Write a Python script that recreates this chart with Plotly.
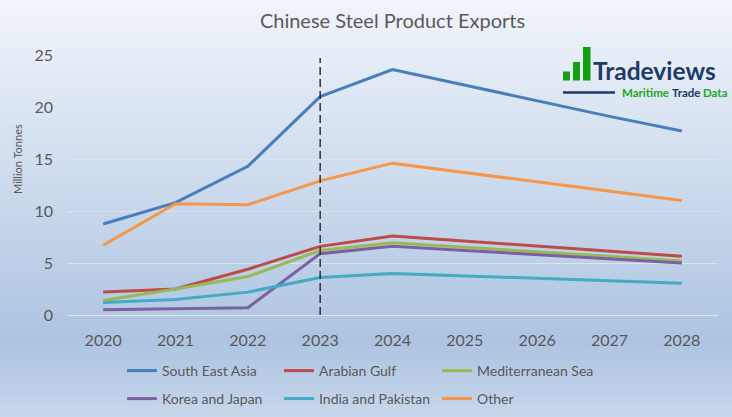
import plotly.graph_objects as go

# ---------------- data ----------------
years = ["2020", "2021", "2022", "2023", "2024", "2025", "2026", "2027", "2028"]
south_east_asia = [8.75, 10.8, 14.3, 21.0, 23.6, 22.1, 20.6, 19.1, 17.7]
arabian_gulf = [2.2, 2.5, 4.4, 6.6, 7.6, 7.1, 6.6, 6.15, 5.65]
mediterranean_sea = [1.4, 2.5, 3.7, 6.2, 6.95, 6.5, 6.05, 5.6, 5.2]
korea_and_japan = [0.5, 0.6, 0.7, 5.9, 6.6, 6.2, 5.8, 5.4, 5.0]
india_and_pakistan = [1.2, 1.5, 2.2, 3.6, 4.0, 3.75, 3.5, 3.25, 3.05]
other = [6.7, 10.7, 10.6, 12.9, 14.6, 13.7, 12.8, 11.9, 11.0]
divider_year = "2023"
divider_span = [0, 24.7]

series_names = ["South East Asia", "Arabian Gulf", "Mediterranean Sea",
                "Korea and Japan", "India and Pakistan", "Other"]
series_values = [south_east_asia, arabian_gulf, mediterranean_sea,
                 korea_and_japan, india_and_pakistan, other]
series_colors = ["#4A7EBB", "#BE4B48", "#98B954", "#7D60A0", "#46AAC5", "#F79646"]

# ---------------- layout geometry ----------------
W, H = 732, 417
L, R, T, B = 67, 14, 55, 102
PW, PH = W - L - R, H - T - B


def px(x):
    return (x - L) / PW


def py(y):
    return (H - B - y) / PH


FONT = "Lato"
GREY = "#595959"
NAVY = "#1E3A66"
LOGO_GREEN = "#22A822"

# legend placement (pixel x of item start, pixel y of row centre)
legend_pos = [(122, 371), (279, 371), (437, 371), (122, 399), (279, 399), (437, 399)]
legend_ids = ["legend", "legend2", "legend3", "legend4", "legend5", "legend6"]

fig = go.Figure()
for name, vals, col, lg in zip(series_names, series_values, series_colors, legend_ids):
    fig.add_trace(go.Scatter(x=years, y=vals, name=name, mode="lines",
                             line=dict(color=col, width=3), legend=lg))

fig.add_trace(go.Scatter(x=[divider_year, divider_year], y=divider_span, mode="lines",
                         line=dict(color="#262626", width=1.4, dash="8px,4px"),
                         showlegend=False, hoverinfo="skip"))


# background gradient as thin horizontal bands
def lerp(a, b, t):
    return tuple(round(a[i] + (b[i] - a[i]) * t) for i in range(3))


stops = [(0.0, (241, 245, 251)), (0.82, (173, 196, 225)), (1.0, (199, 215, 235))]
shapes = []
NB = 104
for k in range(NB):
    f = (k + 0.5) / NB
    for (f0, c0), (f1, c1) in zip(stops[:-1], stops[1:]):
        if f0 <= f <= f1:
            c = lerp(c0, c1, (f - f0) / (f1 - f0))
            break
    y0p = H * k / NB
    y1p = H * (k + 1) / NB + 0.6
    shapes.append(dict(type="rect", xref="paper", yref="paper",
                       x0=px(-2), x1=px(W + 2), y0=py(y1p), y1=py(y0p),
                       fillcolor="rgb(%d,%d,%d)" % c, line=dict(width=0), layer="below"))

# logo bars
for x0, x1, ytop in [(563, 570, 71.5), (573, 580, 62), (583, 590.5, 47)]:
    shapes.append(dict(type="rect", xref="paper", yref="paper",
                       x0=px(x0), x1=px(x1), y0=py(80.5), y1=py(ytop),
                       fillcolor="#12A012", line=dict(width=0), layer="above"))
shapes.append(dict(type="line", xref="paper", yref="paper",
                   x0=px(563), x1=px(615), y0=py(92.5), y1=py(92.5),
                   line=dict(color=NAVY, width=2.5), layer="above"))

annotations = [
    dict(text="Million Tonnes", xref="paper", yref="paper", x=px(17), y=py(159),
         textangle=-90, showarrow=False, font=dict(family=FONT, size=11, color=GREY),
         xanchor="center", yanchor="middle"),
    dict(text="<b>Tradeviews</b>", xref="paper", yref="paper", x=px(591), y=py(70),
         showarrow=False, font=dict(family=FONT, size=24.5, color=NAVY),
         xanchor="left", yanchor="middle"),
    dict(text="<b>Maritime</b>", xref="paper", yref="paper", x=px(619.5), y=py(92.5),
         showarrow=False, font=dict(family=FONT, size=11.5, color=LOGO_GREEN),
         xanchor="left", yanchor="middle"),
    dict(text="<b>Trade</b>", xref="paper", yref="paper", x=px(669.5), y=py(92.5),
         showarrow=False, font=dict(family=FONT, size=11.5, color=NAVY),
         xanchor="left", yanchor="middle"),
    dict(text="<b>Data</b>", xref="paper", yref="paper", x=px(700.5), y=py(92.5),
         showarrow=False, font=dict(family=FONT, size=11.5, color=LOGO_GREEN),
         xanchor="left", yanchor="middle"),
]

legend_common = dict(orientation="h",
                     font=dict(family=FONT, size=14, color=GREY),
                     bgcolor="rgba(0,0,0,0)", xanchor="left", yanchor="middle",
                     itemclick=False, itemdoubleclick=False)
legends = {lg: dict(x=px(xp), y=py(yp), **legend_common)
           for lg, (xp, yp) in zip(legend_ids, legend_pos)}

fig.update_layout(
    width=W, height=H,
    margin=dict(l=L, r=R, t=T, b=B, autoexpand=False),
    paper_bgcolor="#D5E0EF",
    plot_bgcolor="rgba(0,0,0,0)",
    title=dict(text="Chinese Steel Product Exports", x=0.5, xref="paper",
               xanchor="center", y=1 - 21 / H, yanchor="middle",
               font=dict(family=FONT, size=20, color=GREY)),
    xaxis=dict(type="category", range=[-0.5, len(years) - 0.5], showgrid=False,
               zeroline=False, showline=False,
               ticks="", tickfont=dict(family=FONT, size=16, color=GREY),
               ticklabelstandoff=14),
    yaxis=dict(range=[0, 25], tickvals=[0, 5, 10, 15, 20, 25], showgrid=True,
               gridcolor="rgba(224,228,234,0.95)", gridwidth=1,
               zeroline=True, zerolinecolor="rgba(224,228,234,0.95)", zerolinewidth=1,
               showline=False, ticks="", tickfont=dict(family=FONT, size=16, color=GREY),
               ticklabelstandoff=13),
    shapes=shapes,
    annotations=annotations,
    showlegend=True,
    **legends,
)

fig.write_html("out.html", config={"displayModeBar": False},
               post_script="document.body.style.margin='0';document.body.style.overflow='hidden';")
